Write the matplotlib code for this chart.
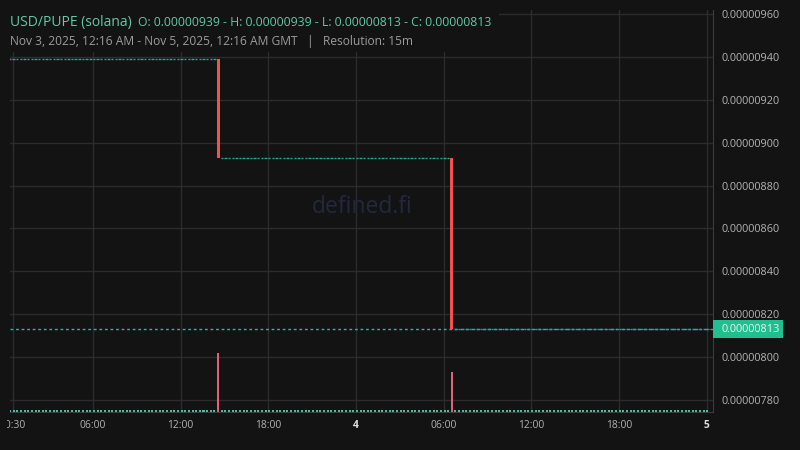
import numpy as np
import matplotlib
matplotlib.use("Agg")
import matplotlib.pyplot as plt
from matplotlib.patches import Rectangle
from matplotlib.transforms import Bbox, TransformedBbox

# ---------------- data ----------------
candle_hours = 0.25            # 15m resolution
first_open_h = 0.25            # Nov 3 00:15, hours from Nov 3 00:00
last_open_h = 48.0             # Nov 5 00:00
price_levels = [9.39e-6, 8.93e-6, 8.13e-6]
drop_open_h = [14.5, 30.5]     # candles in which the price dropped
drop_volume = [590, 400]
flat_volume = 15
x_tick_hours = [0.5, 6, 12, 18, 24, 30, 36, 42, 48]
x_tick_labels = ["00:30", "06:00", "12:00", "18:00", "4", "06:00", "12:00", "18:00", "5"]
day_labels = ["4", "5"]
y_ticks = [7.8e-6, 8.0e-6, 8.2e-6, 8.4e-6, 8.6e-6, 8.8e-6, 9.0e-6, 9.2e-6, 9.4e-6, 9.6e-6]
title_main = "USD/PUPE (solana)"
title_ohlc = "O: 0.00000939 - H: 0.00000939 - L: 0.00000813 - C: 0.00000813"
subtitle = "Nov 3, 2025, 12:16 AM - Nov 5, 2025, 12:16 AM GMT   |   Resolution: 15m"
watermark = "defined.fi"

# ---------------- build candles ----------------
opens_t = np.arange(first_open_h, last_open_h + 1e-9, candle_hours)
o = []
c = []
v = []
for t in opens_t:
    n_before = sum(1 for d in drop_open_h if d < t - 1e-9)
    hit = [i for i, d in enumerate(drop_open_h) if abs(t - d) < 1e-9]
    if hit:
        i = hit[0]
        o.append(price_levels[i]); c.append(price_levels[i + 1]); v.append(drop_volume[i])
    else:
        o.append(price_levels[n_before]); c.append(price_levels[n_before]); v.append(flat_volume)
o = np.array(o); c = np.array(c); v = np.array(v)
xc = opens_t + candle_hours * 0.25

# ---------------- style ----------------
BG = "#131313"
GRID = "#2c2c2c"
TEAL = "#26a69a"
TEAL_VOL = "#4fb8a0"
RED = "#ef5350"
PINK = "#e3607a"
TXT = "#b4b4b4"
FONT = ["Open Sans", "DejaVu Sans"]
plt.rcParams["font.family"] = FONT

fig = plt.figure(figsize=(8, 4.5), dpi=100, facecolor=BG)
W, H = 800, 450
ax = fig.add_axes([10 / W, 1 - 412 / H, 702.5 / W, 402 / H])
ax.set_facecolor(BG)
ax.set_xlim(0.315, 48.41)
ax.set_ylim(7.744e-6, 9.619e-6)

ax.grid(True, color=GRID, lw=1)
ax.set_axisbelow(True)
for s in ["left", "top"]:
    ax.spines[s].set_visible(False)
for s in ["right", "bottom"]:
    ax.spines[s].set_color("#3c3c3c")

# volume pane
ax2 = ax.twinx()
ax2.set_ylim(0, max(v) / 0.148)
ax2.axis("off")
vol_colors = [PINK if cc < oo else TEAL_VOL for oo, cc in zip(o, c)]
ax2.bar(xc, v, width=candle_hours * 0.55, color=vol_colors, linewidth=0)

# price line
ax.axhline(c[-1], color="#2bb5a2", lw=1, linestyle=(0, (2, 2)), zorder=2)

# flat candles
flat = o == c
ax.hlines(c[flat], xc[flat] - candle_hours * 0.33, xc[flat] + candle_hours * 0.33,
          color=TEAL, lw=1, zorder=3)
# moving candles
mv = ~flat
ax.bar(xc[mv], c[mv] - o[mv], bottom=o[mv], width=candle_hours * 0.8,
       color=RED, linewidth=0, zorder=4)

# axes ticks
ax.yaxis.tick_right()
ax.set_yticks(y_ticks)
ax.set_yticklabels([f"{t:.8f}" for t in y_ticks])
ax.tick_params(axis="y", length=0, pad=6.8, labelcolor=TXT, labelsize=7.8)
ax.set_xticks(x_tick_hours)
ax.set_xticklabels(x_tick_labels)
ax.tick_params(axis="x", length=0, pad=6, labelcolor=TXT, labelsize=7.4)
clipbox = TransformedBbox(Bbox([[7 / W, 0], [1, 1]]), fig.transFigure)
for lab in ax.get_xticklabels():
    if lab.get_text() in day_labels:
        lab.set_fontweight("bold")
        lab.set_color("#e0e0e0")
    lab.set_clip_on(True)
    lab.set_clip_box(clipbox)

# watermark
ax.text(0.501, 0.51, watermark, transform=ax.transAxes, ha="center", va="center",
        fontsize=16.5, color="#25273f", zorder=1)

# header cover + titles
fig.add_artist(Rectangle((0, 1 - 52 / H), 499 / W, 52 / H, transform=fig.transFigure,
                         facecolor=BG, edgecolor="none", zorder=5))
t1 = fig.text(10 / W, 1 - 26 / H, title_main, color="#62c8a6", fontsize=10,
              va="baseline", zorder=6)
fig.canvas.draw()
r = fig.canvas.get_renderer()
end1 = t1.get_window_extent(r).x1
fig.text((end1 + 6) / W, 1 - 26 / H, title_ohlc, color="#62c8a6", fontsize=8.85,
         va="baseline", zorder=6)
fig.text(10 / W, 1 - 45 / H, subtitle, color="#9c9c9c", fontsize=8.65, va="baseline", zorder=6)

# last price tag
ydisp = ax.transData.transform((0, c[-1]))[1]
x1 = ax.get_position().x1 * W
fig.add_artist(Rectangle((x1 / W, (ydisp - 9) / H), (783 - x1) / W, 18 / H,
                         transform=fig.transFigure, facecolor="#1fbf8f", edgecolor="none", zorder=5))
fig.text(722 / W, ydisp / H, f"{c[-1]:.8f}", color="#f4f4f4", fontsize=7.8,
         va="center", ha="left", zorder=6)

fig.savefig("out.png", dpi=100, facecolor=BG)
